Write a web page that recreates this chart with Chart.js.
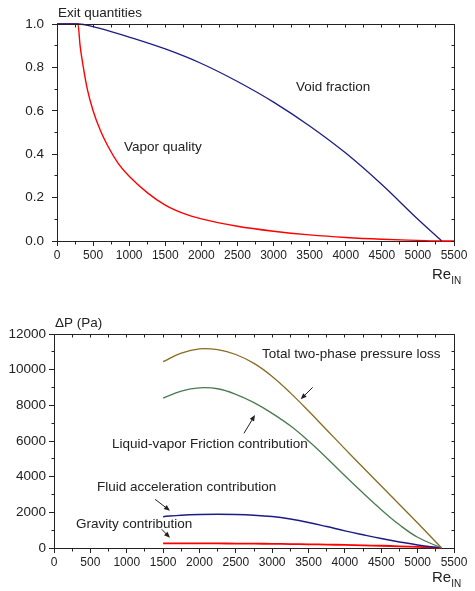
<!DOCTYPE html>
<html>
<head>
<meta charset="utf-8">
<script src="https://cdn.jsdelivr.net/npm/chart.js@4"></script>
<style>
  html, body { margin: 0; padding: 0; background: #fff; }
  #wrap { position: relative; width: 475px; height: 591px; }
  #exitChart { position: absolute; left: 0; top: 0; }
  #dpChart { position: absolute; left: 0; top: 280px; }
</style>
</head>
<body>
<div id="wrap">
  <canvas id="exitChart" width="475" height="290"></canvas>
  <canvas id="dpChart" width="475" height="311"></canvas>
</div>
<script>
// top panel: exit quantities vs inlet Reynolds number
const voidRe = [0, 300, 500, 750, 1000, 1500, 2000, 2500, 3000, 3500, 4000, 4500, 5000, 5330];
const voidFraction = [1, 1, 0.988, 0.965, 0.94, 0.885, 0.818, 0.735, 0.64, 0.53, 0.405, 0.26, 0.1, 0];
const qualityRe = [0, 290, 320, 365, 420, 500, 600, 700, 850, 1000, 1250, 1500, 1750, 2000, 2500, 3000, 3500, 4000, 4500, 5000, 5330, 5500];
const vaporQuality = [1, 1, 0.9, 0.8, 0.7, 0.6, 0.51, 0.44, 0.357, 0.298, 0.223, 0.165, 0.127, 0.102, 0.068, 0.045, 0.028, 0.016, 0.008, 0.003, 0, 0];

// bottom panel: pressure loss contributions (Pa)
const dpRe = [1500, 1750, 2000, 2250, 2500, 2750, 3000, 3250, 3500, 3750, 4000, 4250, 4500, 4750, 5000, 5330];
const totalLoss = [10450, 10930, 11170, 11120, 10850, 10350, 9620, 8700, 7680, 6620, 5560, 4510, 3480, 2440, 1400, 0];
const frictionPart = [8400, 8800, 8980, 8930, 8620, 8150, 7550, 6850, 6000, 5050, 4050, 3080, 2150, 1300, 600, 0];
const accelPart = [1755, 1840, 1880, 1890, 1880, 1840, 1760, 1620, 1430, 1200, 960, 740, 530, 340, 170, 0];
const gravityPart = [262, 262, 260, 255, 250, 242, 233, 222, 208, 192, 172, 150, 125, 96, 62, 0];

const FONT = 'Liberation Sans, Arial, sans-serif';
const INK = '#222';

function points(xs, ys) {
    return xs.map(function (x, i) { return { x: x, y: ys[i] }; });
}

function line(data, color, width, mode) {
    return {
        data: data,
        borderColor: color,
        borderWidth: width,
        pointRadius: 0,
        fill: false,
        clip: false,
        tension: 0.4,
        cubicInterpolationMode: mode || 'monotone'
    };
}

function drawArrow(ctx, x1, y1, x2, y2) {
    const ang = Math.atan2(y2 - y1, x2 - x1);
    const len = 6, half = 2.5;
    ctx.beginPath();
    ctx.moveTo(x1, y1);
    ctx.lineTo(x2 - Math.cos(ang) * len * 0.6, y2 - Math.sin(ang) * len * 0.6);
    ctx.stroke();
    ctx.beginPath();
    ctx.moveTo(x2, y2);
    ctx.lineTo(x2 - Math.cos(ang) * len - Math.sin(ang) * half, y2 - Math.sin(ang) * len + Math.cos(ang) * half);
    ctx.lineTo(x2 - Math.cos(ang) * len + Math.sin(ang) * half, y2 - Math.sin(ang) * len - Math.cos(ang) * half);
    ctx.closePath();
    ctx.fill();
}

// frame, minor ticks, annotations
const decor = {
    id: 'decor',
    afterDraw(chart, args, o) {
        const ctx = chart.ctx;
        const a = chart.chartArea;
        const xs = chart.scales.x, ys = chart.scales.y;
        const L = Math.floor(a.left) + 0.5, R = Math.floor(a.right) + 0.5;
        const T = Math.floor(a.top) + 0.5, B = Math.floor(a.bottom) + 0.5;
        ctx.save();
        ctx.strokeStyle = INK;
        ctx.fillStyle = INK;
        ctx.lineWidth = 1;

        ctx.beginPath();
        ctx.moveTo(L, T); ctx.lineTo(R, T); ctx.lineTo(R, B);
        // x ticks: minor outward at bottom, all inward at top
        for (let i = 0; i * o.xMinor <= xs.max; i++) {
            const px = Math.floor(xs.getPixelForValue(i * o.xMinor)) + 0.5;
            if (i % 2) { ctx.moveTo(px, B); ctx.lineTo(px, B + 3); }
            ctx.moveTo(px, T); ctx.lineTo(px, T + 3);
        }
        for (let i = 0; i * o.yMinor <= ys.max + 1e-9; i++) {
            const py = Math.floor(ys.getPixelForValue(i * o.yMinor)) + 0.5;
            if (i % 2) { ctx.moveTo(L, py); ctx.lineTo(L - 3, py); }
            ctx.moveTo(R, py); ctx.lineTo(R - 3, py);
        }
        ctx.stroke();

        ctx.font = '13.5px ' + FONT;
        ctx.textBaseline = 'middle';
        ctx.textAlign = 'left';
        ctx.fillText(o.title, a.left + 1, a.top - 11);
        o.texts.forEach(function (t) {
            ctx.fillText(t.text, xs.getPixelForValue(t.x), ys.getPixelForValue(t.y));
        });
        o.arrows.forEach(function (ar) {
            drawArrow(ctx, xs.getPixelForValue(ar[0]), ys.getPixelForValue(ar[1]),
                xs.getPixelForValue(ar[2]), ys.getPixelForValue(ar[3]));
        });

        // Re_IN axis label
        const rx = a.right - 22, ry = a.bottom + o.reDy;
        ctx.font = '15px ' + FONT;
        ctx.fillText('Re', rx, ry);
        const w = ctx.measureText('Re').width;
        ctx.font = '10px ' + FONT;
        ctx.fillText('IN', rx + w, ry + 6);
        ctx.restore();
    }
};

function axes(yMax, yStep, yFmt, xHeight, yPad, yWidth) {
    return {
        x: {
            type: 'linear', min: 0, max: 5500,
            ticks: {
                stepSize: 500, color: INK, padding: 2, maxRotation: 0, autoSkip: false,
                font: { family: FONT, size: 12 },
                callback: function (v) { return String(v); }
            },
            grid: { drawOnChartArea: false, drawTicks: true, tickLength: 5, color: INK },
            border: { display: true, color: INK, width: 1 },
            afterFit: function (s) { s.height = xHeight; }
        },
        y: {
            type: 'linear', min: 0, max: yMax,
            ticks: {
                stepSize: yStep, color: INK, padding: yPad,
                font: { family: FONT, size: 13.5 },
                callback: yFmt
            },
            grid: { drawOnChartArea: false, drawTicks: true, tickLength: 5, color: INK },
            border: { display: true, color: INK, width: 1 },
            afterFit: function (s) { s.width = yWidth; }
        }
    };
}

new Chart(document.getElementById('exitChart'), {
    type: 'line',
    data: {
        datasets: [
            line(points(voidRe, voidFraction), '#1c1c86', 1.3),
            line(points(qualityRe, vaporQuality), '#ff0000', 1.4)
        ]
    },
    options: {
        responsive: false,
        animation: false,
        layout: { padding: { top: 24, right: 21, left: 0, bottom: 0 } },
        scales: axes(1, 0.2, function (v) { return v.toFixed(1); }, 49, 8, 57),
        plugins: {
            legend: { display: false },
            tooltip: { enabled: false },
            decor: {
                xMinor: 250, yMinor: 0.1, reDy: 34,
                title: 'Exit quantities',
                texts: [
                    { text: 'Void fraction', x: 3311, y: 0.71 },
                    { text: 'Vapor quality', x: 928, y: 0.433 }
                ],
                arrows: []
            }
        }
    },
    plugins: [decor]
});

new Chart(document.getElementById('dpChart'), {
    type: 'line',
    data: {
        datasets: [
            line(points(dpRe, totalLoss), '#8a6b1e', 1.3, 'default'),
            line(points(dpRe, frictionPart), '#4b7a50', 1.3, 'default'),
            line(points(dpRe, accelPart), '#1c1c86', 1.5, 'default'),
            line(points(dpRe, gravityPart), '#ff0000', 1.8, 'default')
        ]
    },
    options: {
        responsive: false,
        animation: false,
        layout: { padding: { top: 54, right: 21, left: 0, bottom: 0 } },
        scales: axes(12000, 2000, function (v) { return String(v); }, 43, 3, 54),
        plugins: {
            legend: { display: false },
            tooltip: { enabled: false },
            decor: {
                xMinor: 250, yMinor: 1000, reDy: 30,
                title: '\u0394P (Pa)',
                texts: [
                    { text: 'Total two-phase pressure loss', x: 2860, y: 10879 },
                    { text: 'Liquid-vapor Friction contribution', x: 797, y: 5832 },
                    { text: 'Fluid acceleration contribution', x: 591, y: 3421 },
                    { text: 'Gravity contribution', x: 302, y: 1346 }
                ],
                arrows: [
                    [3557, 9011, 3392, 8338],
                    [2612, 6432, 2764, 7458],
                    [1389, 2731, 1595, 2092],
                    [1481, 1049, 1595, 578]
                ]
            }
        }
    },
    plugins: [decor]
});
</script>
</body>
</html>
